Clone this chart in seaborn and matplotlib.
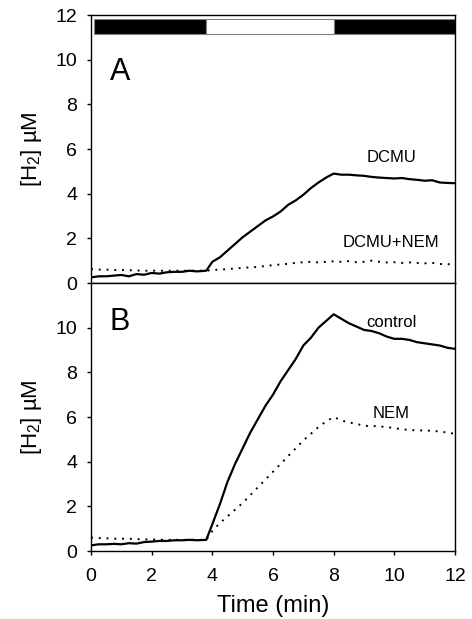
import matplotlib
matplotlib.use("Agg")
import matplotlib.pyplot as plt
import seaborn as sns
import pandas as pd

# ---- data ----
time_min = [0, 0.25, 0.5, 0.75, 1.0, 1.25, 1.5, 1.75, 2.0, 2.25, 2.5, 2.75, 3.0, 3.25, 3.5,
            3.8, 4.0, 4.25, 4.5, 4.75, 5.0, 5.25, 5.5, 5.75, 6.0, 6.25, 6.5, 6.75, 7.0, 7.25,
            7.5, 7.75, 8.0, 8.25, 8.5, 8.75, 9.0, 9.25, 9.5, 9.75, 10.0, 10.25, 10.5, 10.75,
            11.0, 11.25, 11.5, 11.75, 12.0]

dcmu = [0.25, 0.3, 0.3, 0.33, 0.36, 0.3, 0.4, 0.37, 0.45, 0.42, 0.48, 0.5, 0.5, 0.55, 0.52,
        0.55, 0.95, 1.15, 1.45, 1.75, 2.05, 2.3, 2.55, 2.8, 2.98, 3.2, 3.5, 3.7, 3.95, 4.25,
        4.5, 4.72, 4.9, 4.85, 4.85, 4.82, 4.8, 4.75, 4.72, 4.7, 4.68, 4.7, 4.65, 4.62,
        4.58, 4.6, 4.5, 4.48, 4.47]

dcmu_nem = [0.62, 0.6, 0.6, 0.58, 0.58, 0.57, 0.56, 0.55, 0.55, 0.55, 0.55, 0.55, 0.55, 0.55, 0.55,
            0.55, 0.58, 0.6, 0.62, 0.65, 0.68, 0.7, 0.72, 0.76, 0.8, 0.83, 0.86, 0.9, 0.93, 0.95,
            0.92, 0.95, 0.97, 0.95, 0.98, 0.93, 0.95, 1.0, 0.95, 0.92, 0.93, 0.9, 0.92, 0.9,
            0.88, 0.9, 0.85, 0.85, 0.8]

control = [0.25, 0.3, 0.3, 0.32, 0.3, 0.35, 0.33, 0.4, 0.42, 0.45, 0.45, 0.48, 0.48, 0.5, 0.48,
           0.5, 1.2, 2.1, 3.1, 3.9, 4.6, 5.3, 5.9, 6.5, 7.0, 7.6, 8.1, 8.6, 9.2, 9.55,
           10.0, 10.3, 10.6, 10.4, 10.2, 10.05, 9.9, 9.85, 9.75, 9.6, 9.5, 9.5, 9.45, 9.35,
           9.3, 9.25, 9.2, 9.1, 9.05]

nem = [0.6, 0.58, 0.57, 0.55, 0.55, 0.55, 0.53, 0.52, 0.52, 0.5, 0.5, 0.5, 0.5, 0.5, 0.5,
       0.5, 0.9, 1.25, 1.55, 1.85, 2.15, 2.5, 2.85, 3.2, 3.55, 3.9, 4.25, 4.6, 4.95, 5.25,
       5.55, 5.8, 6.0, 5.85, 5.75, 5.7, 5.6, 5.6, 5.58, 5.55, 5.5, 5.45, 5.42, 5.4,
       5.4, 5.38, 5.35, 5.3, 5.25]

# dark / light / dark periods for the top bar
period_start = [0.1, 3.8, 8.0]
period_end = [3.8, 8.0, 12.0]
period_color = ["black", "white", "black"]

yticks_a = [0, 2, 4, 6, 8, 10, 12]
yticks_b = [0, 2, 4, 6, 8, 10]
xticks = [0, 2, 4, 6, 8, 10, 12]

sns.set_style("ticks")
plt.rcParams["font.family"] = ["Liberation Sans", "DejaVu Sans"]
plt.rcParams["mathtext.fontset"] = "custom"
plt.rcParams["mathtext.rm"] = "Liberation Sans"
plt.rcParams["mathtext.it"] = "Liberation Sans"
for k in ("text.color", "axes.labelcolor", "xtick.color", "ytick.color", "axes.edgecolor"):
    plt.rcParams[k] = "black"

fig = plt.figure(figsize=(4.72, 6.19), dpi=100)
L, R = 91 / 472, 455 / 472
axA = fig.add_axes([L, 1 - 283 / 619, R - L, (283 - 15) / 619])
axB = fig.add_axes([L, 1 - 551 / 619, R - L, (551 - 283) / 619])

dfA = pd.DataFrame({"t": time_min, "DCMU": dcmu, "DCMU+NEM": dcmu_nem})
dfB = pd.DataFrame({"t": time_min, "control": control, "NEM": nem})

solid_kw = dict(color="black", linewidth=1.6)
dot_kw = dict(color="black", linewidth=1.4, linestyle=(0, (1, 3)))

sns.lineplot(data=dfA, x="t", y="DCMU", ax=axA, **solid_kw)
sns.lineplot(data=dfA, x="t", y="DCMU+NEM", ax=axA, **dot_kw)
sns.lineplot(data=dfB, x="t", y="control", ax=axB, **solid_kw)
sns.lineplot(data=dfB, x="t", y="NEM", ax=axB, **dot_kw)

# top bar of dark/light periods
for s, e, c in zip(period_start, period_end, period_color):
    axA.barh(11.49, e - s, left=s, height=0.66, color=c, edgecolor="#808080", linewidth=0.8)

for ax in (axA, axB):
    ax.set_xlim(0, 12)
    ax.set_ylim(0, 12)
    for sp in ax.spines.values():
        sp.set_visible(True)
        sp.set_color("black")
        sp.set_linewidth(1.0)
    ax.tick_params(axis="y", direction="out", length=3, width=1, labelsize=14, pad=7)
    ax.set_ylabel(r"[H$_2$] µM", fontsize=16)
    ax.yaxis.set_label_coords(-0.128, 0.5)

axA.set_yticks(yticks_a)
axA.set_xticks([])
axA.set_xlabel("")
axB.set_yticks(yticks_b)
axB.set_xticks(xticks)
axB.tick_params(axis="x", direction="out", length=3, width=1, labelsize=14, pad=9)
axB.set_xlabel("Time (min)", fontsize=17)
axB.xaxis.set_label_coords(0.5, -0.165)

axA.text(0.95, 9.45, "A", fontsize=22, ha="center", va="center")
axB.text(0.95, 10.24, "B", fontsize=22, ha="center", va="center")
axA.text(9.9, 5.64, "DCMU", fontsize=12, ha="center", va="center")
axA.text(9.9, 1.83, "DCMU+NEM", fontsize=12, ha="center", va="center")
axB.text(9.9, 10.24, "control", fontsize=12, ha="center", va="center")
axB.text(9.9, 6.15, "NEM", fontsize=12, ha="center", va="center")

fig.savefig("out.png", dpi=100)
